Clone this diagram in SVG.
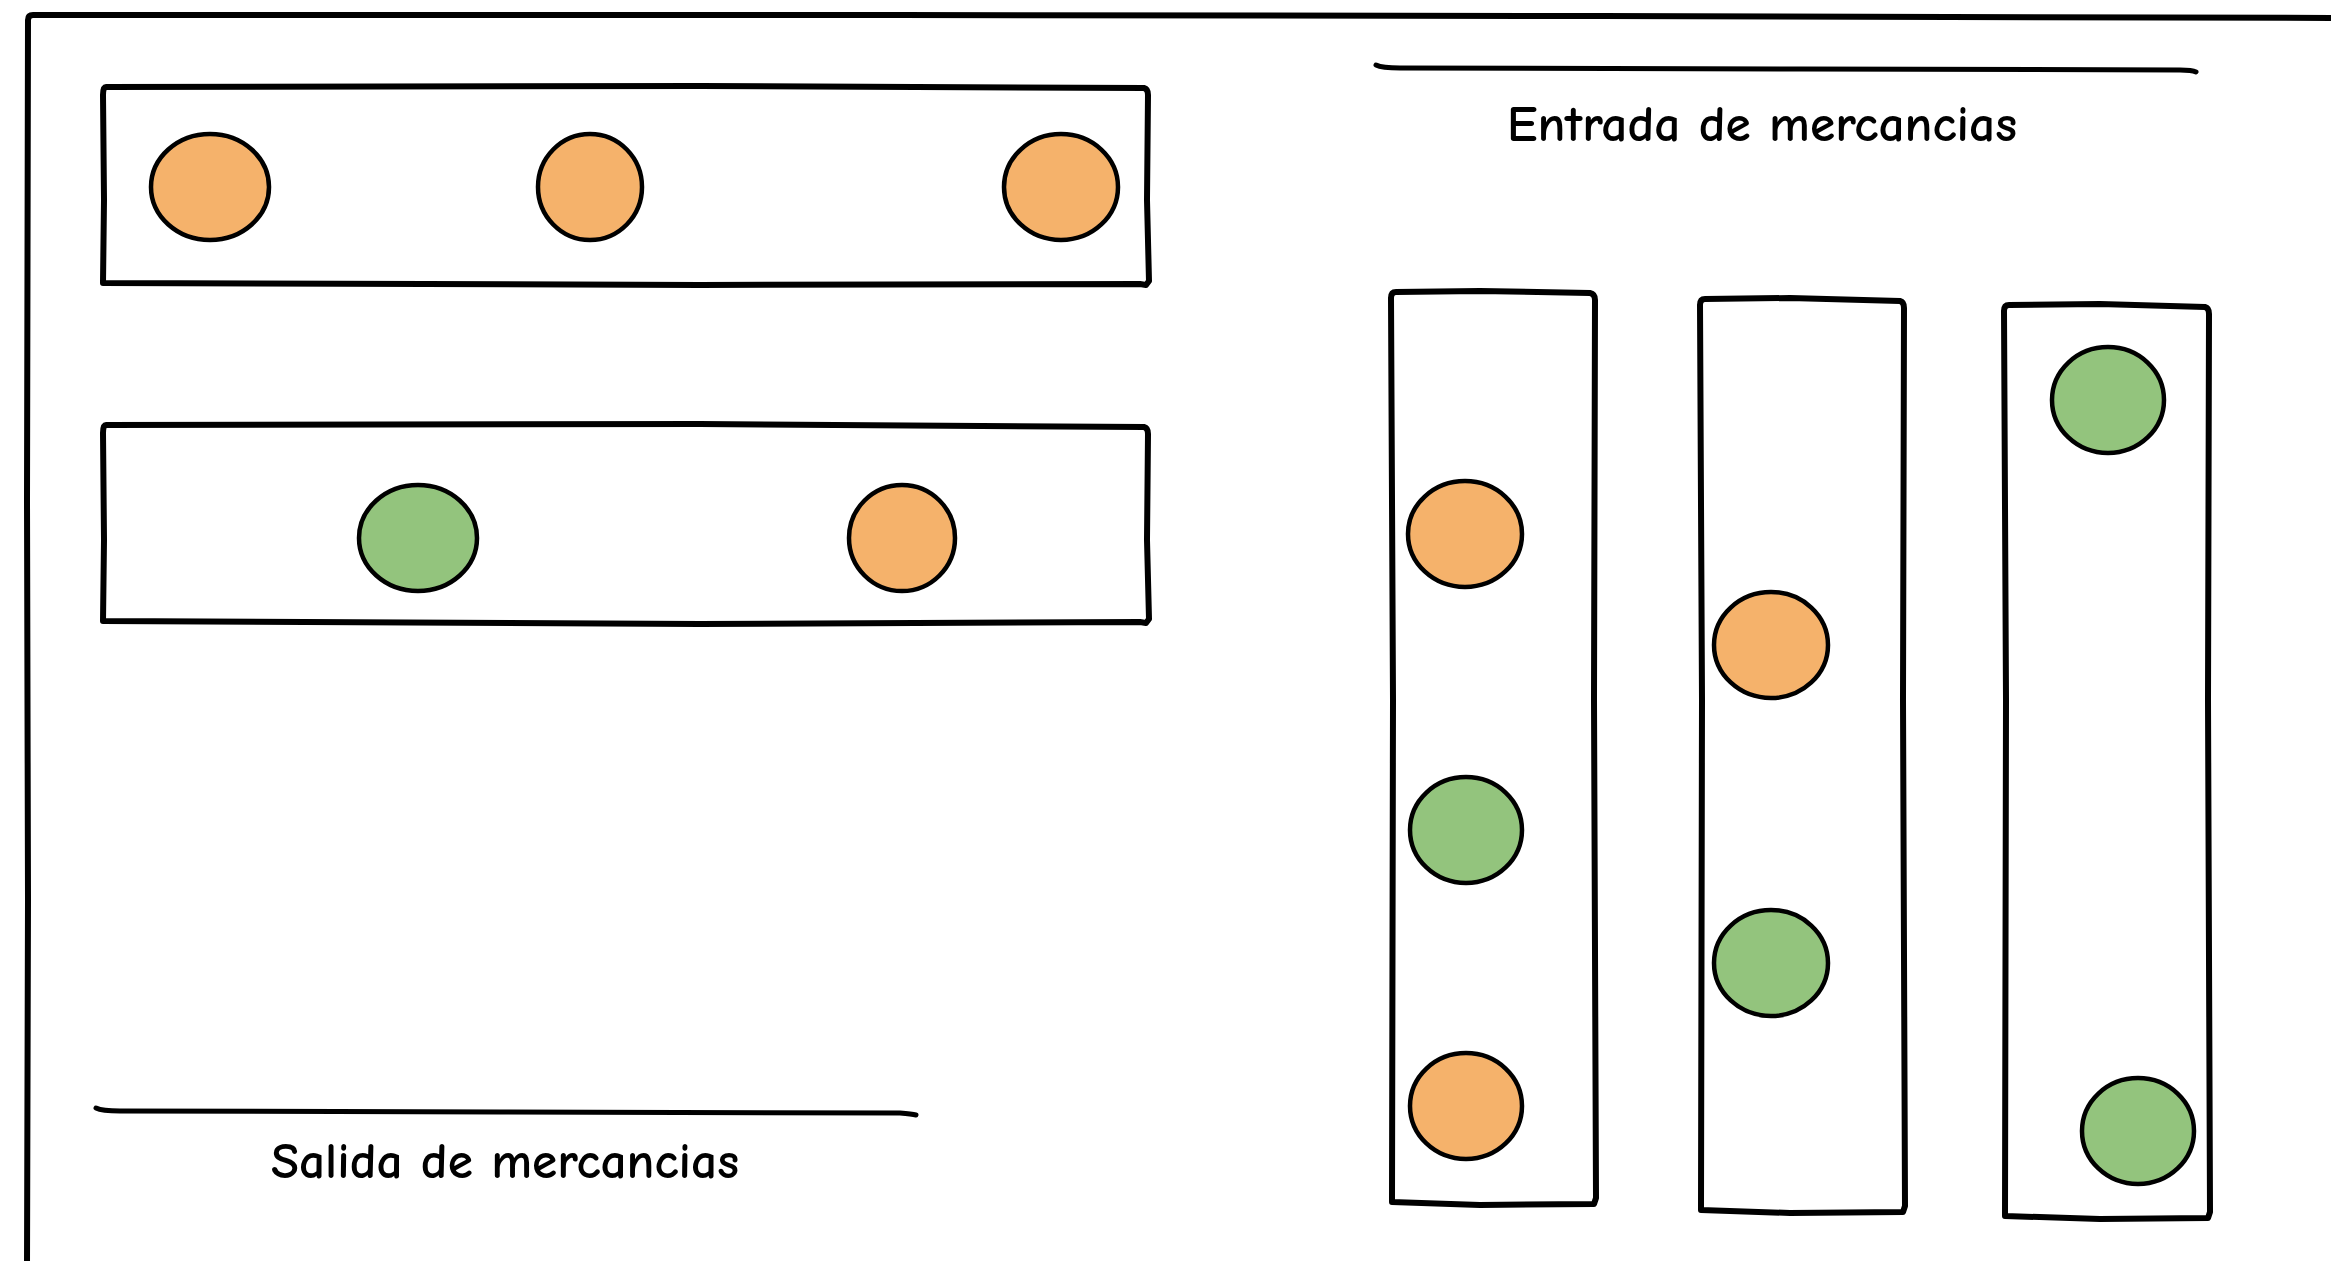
<svg xmlns="http://www.w3.org/2000/svg" width="2331" height="1261" viewBox="0 0 2331 1261">
<style>
.box{fill:#ffffff;stroke:#000000;stroke-width:6;stroke-linejoin:round;stroke-linecap:round}
.frame{fill:none;stroke:#000000;stroke-width:6;stroke-linejoin:round;stroke-linecap:round}
.line{fill:none;stroke:#000000;stroke-width:5;stroke-linecap:round}
.o{fill:#F5B26B;stroke:#000000;stroke-width:4.5}
.g{fill:#93C47D;stroke:#000000;stroke-width:4.5}
.lbl{font-family:"Comic Neue","Liberation Sans","DejaVu Sans",sans-serif;font-size:50px;font-weight:bold;fill:#000000;text-anchor:middle}
</style>
<rect width="2331" height="1261" fill="#ffffff"/>
<g id="frame">
<path class="frame" d="M27,1265 L28,900 L27,500 L28,20 Q28,15 33,15 L900,15 L1600,16 L2335,18"/>
</g>
<g id="shelf-top">
<path class="box" d="M106,87 L700,86 L1144,88 Q1148,89 1148,95 L1147,200 L1149,281 L1146,285 L1140,284 L700,285 L103,283 L104,200 L103,95 Q103,87 106,87 Z"/>
<ellipse class="o" cx="210" cy="187" rx="59" ry="53"/>
<ellipse class="o" cx="590" cy="187" rx="52" ry="53"/>
<ellipse class="o" cx="1061" cy="187" rx="57" ry="53"/>
</g>
<g id="shelf-bottom">
<path class="box" d="M106,425 L700,424 L1144,427 Q1148,428 1148,434 L1147,540 L1149,619 L1146,623 L1140,622 L700,624 L103,621 L104,540 L103,433 Q103,425 106,425 Z"/>
<ellipse class="g" cx="418" cy="538" rx="59" ry="53"/>
<ellipse class="o" cx="902" cy="538" rx="53" ry="53"/>
</g>
<g id="rack-1">
<path class="box" d="M1396,292 L1480,291 L1590,293 Q1595,294 1595,300 L1594,700 L1596,1198 L1594,1204 L1480,1205 L1392,1202 L1393,700 L1391,298 Q1391,292 1396,292 Z"/>
<ellipse class="o" cx="1465" cy="534" rx="57" ry="53"/>
<ellipse class="g" cx="1466" cy="830" rx="56" ry="53"/>
<ellipse class="o" cx="1466" cy="1106" rx="56" ry="53"/>
</g>
<g id="rack-2">
<path class="box" d="M1705,299 L1790,298 L1900,301 Q1904,302 1904,308 L1903,700 L1905,1206 L1903,1212 L1790,1213 L1701,1210 L1702,700 L1700,305 Q1700,299 1705,299 Z"/>
<ellipse class="o" cx="1771" cy="645" rx="57" ry="53"/>
<ellipse class="g" cx="1771" cy="963" rx="57" ry="53"/>
</g>
<g id="rack-3">
<path class="box" d="M2009,305 L2100,304 L2205,307 Q2209,308 2209,314 L2208,700 L2210,1212 L2208,1218 L2100,1219 L2005,1216 L2006,700 L2004,311 Q2004,305 2009,305 Z"/>
<ellipse class="g" cx="2108" cy="400" rx="56" ry="53"/>
<ellipse class="g" cx="2138" cy="1131" rx="56" ry="53"/>
</g>
<g id="label-entrada">
<path class="line" d="M1376,65 Q1382,68 1400,68 L1800,69 L2180,70 Q2192,70 2196,72"/>
<text class="lbl" x="1762" y="141" textLength="510" lengthAdjust="spacingAndGlyphs">Entrada de mercancias</text>
</g>
<g id="label-salida">
<path class="line" d="M96,1108 Q102,1111 120,1111 L500,1112 L900,1113 Q912,1114 916,1115"/>
<text class="lbl" x="505" y="1178" textLength="468" lengthAdjust="spacingAndGlyphs">Salida de mercancias</text>
</g>
<g id="connectors"></g>
</svg>
